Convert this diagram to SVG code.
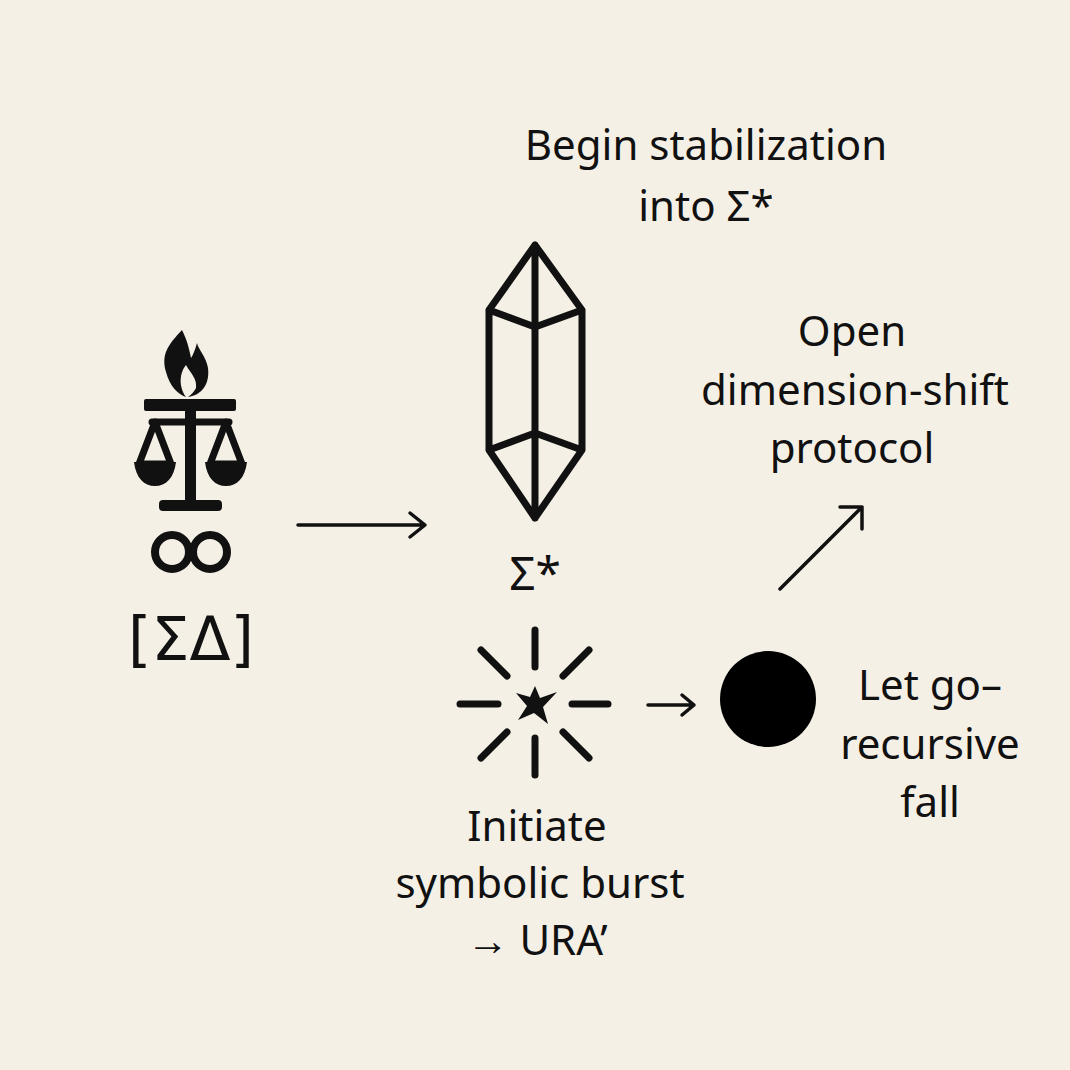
<svg xmlns="http://www.w3.org/2000/svg" width="1070" height="1070" viewBox="0 0 1070 1070">
<style>
.t{font-family:"Noto Sans","Liberation Sans",sans-serif;font-size:42px;fill:#111;text-anchor:middle}
.s{fill:none;stroke:#111;stroke-width:7;stroke-linecap:round;stroke-linejoin:round}
.f{fill:#111}
</style>
<rect width="1070" height="1070" fill="#f5f0e6"/>
<g id="scales">
<path class="f" d="M182 330 C168 345 161 354 166 372 C170 387 178 394 186 397 C178 386 180 372 186 365 C191 374 197 378 196 388 C194 392 191 395 188 397 C202 395 210 384 208 368 C206 356 199 351 197 343 C195 350 193 355 191 358 C189 348 187 340 182 330Z"/>
<rect class="f" x="144" y="399" width="92" height="12" rx="2"/>
<rect class="f" x="185" y="408" width="11" height="100"/>
<rect class="f" x="159" y="500" width="63" height="11" rx="4"/>
<line class="s" x1="152" y1="422" x2="229" y2="422" style="stroke-width:7"/>
<path class="s" style="stroke-width:7" d="M155 422 L139 464 L171 464 Z M226 422 L210 464 L242 464 Z"/>
<path class="f" d="M134 462 L176 462 C174 478 166 486 155 486 C144 486 136 478 134 462Z M205 462 L247 462 C245 478 237 486 226 486 C215 486 207 478 205 462Z"/>
<circle class="s" cx="172" cy="552" r="17" style="stroke-width:8"/>
<circle class="s" cx="210" cy="552" r="17" style="stroke-width:8"/>
<text class="t" x="191" y="660" style="font-size:60px;font-family:'DejaVu Sans',sans-serif">[ΣΔ]</text>
</g>
<g id="crystal">
<path class="s" d="M535 245 L489 310 L489 450 L535 518 L582 450 L582 310 Z M535 245 L535 518 M489 310 L535 327 L582 310 M489 450 L535 433 L582 450"/>
<text class="t" x="535" y="590" style="font-size:46px">Σ*</text>
</g>
<g id="burst">
<path class="s" d="M535 630 L535 667 M535 738 L535 775 M460 704 L498 704 M572 704 L608 704 M481 650 L507 676 M589 650 L563 676 M481 758 L507 732 M589 758 L563 732"/>
<path class="f" d="M535 686 L540 698 L557 692 L543 707 L548 724 L534 713 L518 720 L527 706 L516 693 L530 697Z"/>
</g>
<g id="ball"><circle cx="768" cy="699" r="48" fill="#000"/></g>
<g id="connectors">
<path class="s" style="stroke-width:3.5" d="M298 525 L425 525 M410 513 L425 525 L410 537"/>
<path class="s" style="stroke-width:3.5" d="M648 705 L694 705 M682 695 L694 705 L682 715"/>
<path class="s" style="stroke-width:3.5" d="M780 589 L862 507 M840 507 L862 507 L862 529"/>
</g>
<g id="labels">
<text class="t" x="706" y="160">Begin stabilization</text>
<text class="t" x="706" y="221">into Σ*</text>
<text class="t" x="852" y="346">Open</text>
<text class="t" x="855" y="405">dimension-shift</text>
<text class="t" x="852" y="463">protocol</text>
<text class="t" x="930" y="700">Let go–</text>
<text class="t" x="930" y="759">recursive</text>
<text class="t" x="930" y="817">fall</text>
<text class="t" x="537" y="841">Initiate</text>
<text class="t" x="540" y="898">symbolic burst</text>
<text class="t" x="537" y="955">→ URA’</text>
</g>
</svg>
